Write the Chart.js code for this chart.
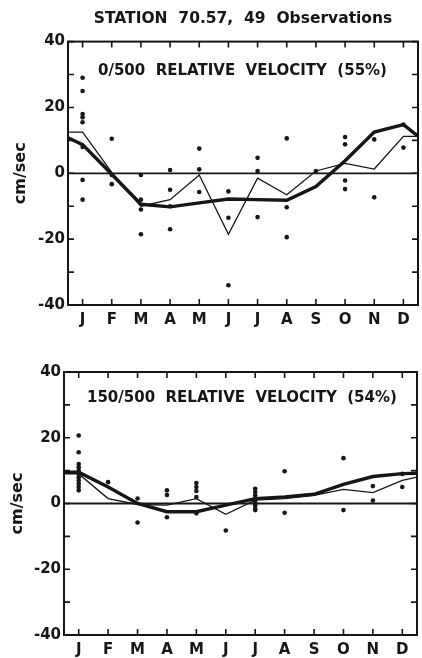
<!DOCTYPE html>
<html>
<head>
<meta charset="utf-8">
<script src="https://cdn.jsdelivr.net/npm/chart.js@4"></script>
<style>
  html, body { margin: 0; padding: 0; background: #fff; }
  .panel { position: relative; width: 422px; }
</style>
</head>
<body>
<div class="panel" style="height:330px"><canvas id="chart-0500"></canvas></div>
<div class="panel" style="height:328px"><canvas id="chart-150500"></canvas></div>
<script>
const MONTHS = ['J', 'F', 'M', 'A', 'M', 'J', 'J', 'A', 'S', 'O', 'N', 'D'];

// 0/500 relative velocity, cm/sec
const mean0500 = [12.5, 0.3, -10, -8, -0.5, -18.5, -1.5, -6.5, 0.7, 3, 1.3, 11.2];
const mean0500Ends = [12.5, 11.2];
const fit0500 = [8.7, -0.3, -9.4, -10.2, -9, -7.8, -8, -8.2, -4, 3.8, 12.5, 14.8];
const fit0500Ends = [10.8, 11.3];
const obs0500 = [
  [29, 25, 18, 17, 15.5, 8, -2, -8],
  [10.5, -0.5, -3.3],
  [-0.5, -8, -11, -18.5],
  [1, -5, -10, -17],
  [7.5, 1.2, -5.7],
  [-5.5, -13.5, -34],
  [4.7, 0.7, -13.3],
  [10.6, -10.3, -19.4],
  [0.7],
  [11, 8.8, -2.2, -4.8],
  [10.3, -7.3],
  [14.8, 7.8]
];

// 150/500 relative velocity, cm/sec
const mean150500 = [9, 1.5, -0.3, -0.5, 1.5, -3.3, 1, 1.5, 2.5, 4.3, 3.3, 7];
const mean150500Ends = [9, 8];
const fit150500 = [9.5, 5, 0, -2.5, -2.5, -0.5, 1.5, 2, 2.8, 5.8, 8.2, 9.1];
const fit150500Ends = [9.5, 9.2];
const obs150500 = [
  [20.7, 15.6, 12, 11, 10, 9, 8, 7, 6, 5, 4],
  [6.5],
  [1.5, -5.8],
  [4, 2.6, -4.2],
  [6.2, 5, 3.8, 2, -3],
  [-8.2],
  [4.5, 3.5, 2.5, 1.5, 0.5, -0.5, -1.5, -2],
  [9.8, -2.8],
  [],
  [13.8, -2],
  [5.3, 0.9],
  [9, 5]
];

const INK = '#161616';
const FONT = "'DejaVu Sans', sans-serif";

// monthly series, carried out to the plot edges on both sides
function curve(vals, ends) {
  return [{ x: -0.5, y: ends[0] }, ...vals.map((v, i) => ({ x: i, y: v })), { x: 11.5, y: ends[1] }];
}
function dots(obs) {
  return obs.flatMap((vals, i) => vals.map(v => ({ x: i, y: v })));
}

// box frame, inward tick marks and the in-plot caption
const frame = {
  id: 'frame',
  afterDraw(chart, args, opts) {
    const { ctx, chartArea: a, scales: { x, y } } = chart;
    ctx.save();
    ctx.strokeStyle = INK;
    ctx.lineWidth = 2;
    ctx.strokeRect(a.left, a.top, a.right - a.left, a.bottom - a.top);
    ctx.lineWidth = 1.6;
    ctx.beginPath();
    y.ticks.forEach(t => {
      const py = y.getPixelForValue(t.value);
      ctx.moveTo(a.left, py); ctx.lineTo(a.left + 6, py);
      ctx.moveTo(a.right, py); ctx.lineTo(a.right - 6, py);
    });
    x.ticks.forEach(t => {
      const px = x.getPixelForValue(t.value);
      ctx.moveTo(px, a.top); ctx.lineTo(px, a.top + 6);
      ctx.moveTo(px, a.bottom); ctx.lineTo(px, a.bottom - 6);
    });
    ctx.stroke();
    ctx.fillStyle = INK;
    ctx.font = 'bold 15px ' + FONT;
    ctx.textBaseline = 'middle';
    ctx.fillText(opts.label, a.left + opts.dx, a.top + opts.dy);
    ctx.restore();
  }
};

function build(id, cfg) {
  return new Chart(id, {
    type: 'scatter',
    data: {
      datasets: [
        { data: [{ x: -0.5, y: 0 }, { x: 11.5, y: 0 }], showLine: true, borderColor: INK, borderWidth: 1.8, pointRadius: 0 },
        { data: curve(cfg.mean, cfg.meanEnds), showLine: true, borderColor: INK, borderWidth: 1.3, pointRadius: 0 },
        { data: curve(cfg.fit, cfg.fitEnds), showLine: true, borderColor: INK, borderWidth: 3.4, pointRadius: 0 },
        { data: dots(cfg.obs), showLine: false, pointRadius: 2.3, pointBackgroundColor: INK, pointBorderWidth: 0 }
      ]
    },
    options: {
      animation: false,
      responsive: true,
      maintainAspectRatio: false,
      layout: { padding: cfg.padding },
      plugins: {
        legend: { display: false },
        tooltip: { enabled: false },
        title: cfg.title ? {
          display: true, text: cfg.title, fullSize: false, color: INK,
          font: { family: FONT, size: 15.5, weight: 'bold' }, padding: { top: 10, bottom: 13 }
        } : { display: false },
        frame: { label: cfg.label, dx: cfg.labelDx, dy: cfg.labelDy }
      },
      scales: {
        x: {
          type: 'linear', min: -0.5, max: 11.5,
          afterBuildTicks: s => { s.ticks = MONTHS.map((m, i) => ({ value: i })); },
          afterFit: s => { s.height = cfg.xHeight; },
          ticks: { callback: v => MONTHS[v], color: INK, padding: 6, font: { family: FONT, size: 15, weight: 'bold' } },
          grid: { display: false, drawTicks: false },
          border: { display: false }
        },
        y: {
          min: -40, max: 40,
          afterFit: s => { s.width = cfg.yWidth; },
          ticks: { stepSize: 5, callback: v => v % 20 === 0 ? v : '', color: INK, padding: 3, font: { family: FONT, size: 15, weight: 'bold' } },
          grid: { display: false, drawTicks: false },
          border: { display: false },
          title: { display: true, text: 'cm/sec', color: INK, font: { family: FONT, size: 16, weight: 'bold' }, padding: { top: cfg.titlePad, bottom: 0 } }
        }
      }
    },
    plugins: [frame]
  });
}

build('chart-0500', {
  mean: mean0500, meanEnds: mean0500Ends, fit: fit0500, fitEnds: fit0500Ends, obs: obs0500,
  title: 'STATION  70.57,  49  Observations',
  label: '0/500  RELATIVE  VELOCITY  (55%)', labelDx: 30, labelDy: 30,
  padding: { left: 0, right: 2, top: 0, bottom: 0 }, yWidth: 68, xHeight: 25, titlePad: 11
});

build('chart-150500', {
  mean: mean150500, meanEnds: mean150500Ends, fit: fit150500, fitEnds: fit150500Ends, obs: obs150500,
  title: null,
  label: '150/500  RELATIVE  VELOCITY  (54%)', labelDx: 23, labelDy: 26,
  padding: { left: 0, right: 5, top: 42, bottom: 0 }, yWidth: 64, xHeight: 23, titlePad: 8
});
</script>
</body>
</html>
